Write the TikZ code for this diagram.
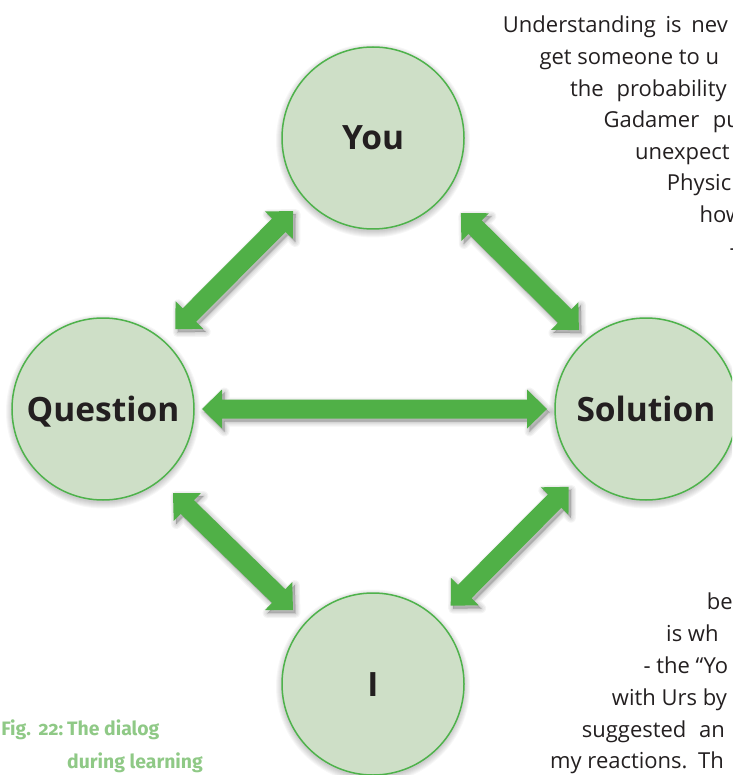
\documentclass[tikz,border=0pt]{standalone}
\usepackage{fontspec}
\setmainfont{Open Sans}
\newfontfamily\capfont[Numbers=OldStyle]{Fira Sans}
\usetikzlibrary{calc}
\definecolor{circfill}{RGB}{206,223,199}
\definecolor{circline}{RGB}{78,178,75}
\definecolor{arrowgreen}{RGB}{80,176,71}
\definecolor{inktext}{RGB}{35,31,32}
\definecolor{capgreen}{RGB}{143,201,134}
\newcommand\dblarrowpath[2]{(#1)
 -- ($(#1)!20pt!(#2)!19.5pt!90:(#2)$)
 -- ($(#1)!20pt!(#2)!9.5pt!90:(#2)$)
 -- ($(#2)!20pt!(#1)!9.5pt!-90:(#1)$)
 -- ($(#2)!20pt!(#1)!19.5pt!-90:(#1)$)
 -- (#2)
 -- ($(#2)!20pt!(#1)!19.5pt!90:(#1)$)
 -- ($(#2)!20pt!(#1)!9.5pt!90:(#1)$)
 -- ($(#1)!20pt!(#2)!9.5pt!-90:(#2)$)
 -- ($(#1)!20pt!(#2)!19.5pt!-90:(#2)$)
 -- cycle}
\newcommand\shadedarrow[2]{%
 \begin{scope}[transform canvas={shift={(2.5pt,-3pt)}}]
  \foreach \w in {0,2.5,5,7.5,10}{\filldraw[black,opacity=0.045,line width=\w pt,line join=round] \dblarrowpath{#1}{#2};}
 \end{scope}
 \fill[arrowgreen] \dblarrowpath{#1}{#2};}
\begin{document}
\begin{tikzpicture}[x=1pt,y=-1pt,
  bubble/.style={circle,minimum size=182pt,inner sep=0pt,fill=circfill,draw=circline,line width=1.5pt,
    font=\fontsize{33.5}{40}\selectfont\bfseries,text=inktext,text height=24pt,text depth=0pt},
  para/.style={font=\fontsize{22}{26}\selectfont,text=inktext,anchor=base west,inner sep=0pt},
  capstyle/.style={font=\capfont\fontsize{19.4}{23}\selectfont\bfseries,text=capgreen,inner sep=0pt}]
\useasboundingbox (0,0) rectangle (732,775);
\clip (0,0) rectangle (732,775);
\coordinate (cY) at (373,138);
\coordinate (cQ) at (103,409);
\coordinate (cS) at (646,409);
\coordinate (cI) at (373,684);
% soft glow under the circles
\foreach \cc in {cY,cQ,cS,cI}{
  \foreach \k in {1,...,7}{\fill[black,opacity=0.03] ($(\cc)+(0,2.5)$) circle[radius=90pt+\k pt];}
}
\node[bubble] (Y) at (cY) {You};
\node[bubble] (Q) at (cQ) {Question};
\node[bubble] (S) at (cS) {Solution};
\node[bubble] (I) at (cI) {I};
% arrow end points derived from the circles
\coordinate (qa) at ($(Q.center)+(-3.6,-3.6)$);
\coordinate (ya) at ($(Y.center)+(-3.6,-3.6)$);
\coordinate (t11) at ($(qa)!107.5pt!(ya)$);
\coordinate (t12) at ($(ya)!108.2pt!(qa)$);
\coordinate (yb) at ($(Y.center)+(6.1,-6.2)$);
\coordinate (sb) at ($(S.center)+(6.1,-6.2)$);
\coordinate (t21) at ($(yb)!115.3pt!(sb)$);
\coordinate (t22) at ($(sb)!103.2pt!(yb)$);
\coordinate (t31) at ($(Q.center)!99pt!(S.center)$);
\coordinate (t32) at ($(S.center)!99pt!(Q.center)$);
\coordinate (qc) at ($(Q.center)+(-7.9,8.1)$);
\coordinate (ic) at ($(I.center)+(-2,2.1)$);
\coordinate (t41) at ($(qc)!108.8pt!(ic)$);
\coordinate (t42) at ($(ic)!109pt!(qc)$);
\coordinate (t51) at ($(I.center)!110.3pt!(S.center)$);
\coordinate (t52) at ($(S.center)!109.7pt!(I.center)$);
\shadedarrow{t11}{t12}
\shadedarrow{t21}{t22}
\shadedarrow{t31}{t32}
\shadedarrow{t41}{t42}
\shadedarrow{t51}{t52}
% running text (justified lines, clipped by the page edge)
\node[para] (p1) at (502.7,33) {Understanding\hspace*{4pt} is\hspace*{4pt} nev};
\node[para] (p2) at (539.3,65) {get someone to u};
\node[para] (p3) at (570,96.5) {the\hspace*{7pt} probability};
\node[para] (p4) at (603.3,128) {Gadamer\hspace*{8pt} pu};
\node[para] (p5) at (635,160) {unexpect};
\node[para] (p6) at (666.7,191) {Physic};
\node[para] (p7) at (699.3,223) {how};
\node[para] (p8) at (729.5,255) {-};
\node[para] (b1) at (706.7,609) {be};
\node[para] (b2) at (666,641) {is wh};
\node[para] (b3) at (643.3,673) {- the “Yo};
\node[para] (b4) at (611.7,705) {with Urs by};
\node[para] (b5) at (581.7,737) {suggested\hspace*{7pt} an};
\node[para] (b6) at (550,768) {my reactions.\hspace*{5pt} Th};
% caption
\node[capstyle,anchor=base east] (cap1) at (63.5,735) {Fig.\hspace*{3pt} 22:};
\node[capstyle,anchor=base west] (cap2) at (67,735) {The dialog};
\node[capstyle,anchor=base west] (cap3) at (67,768) {during learning};
\end{tikzpicture}
\end{document}
